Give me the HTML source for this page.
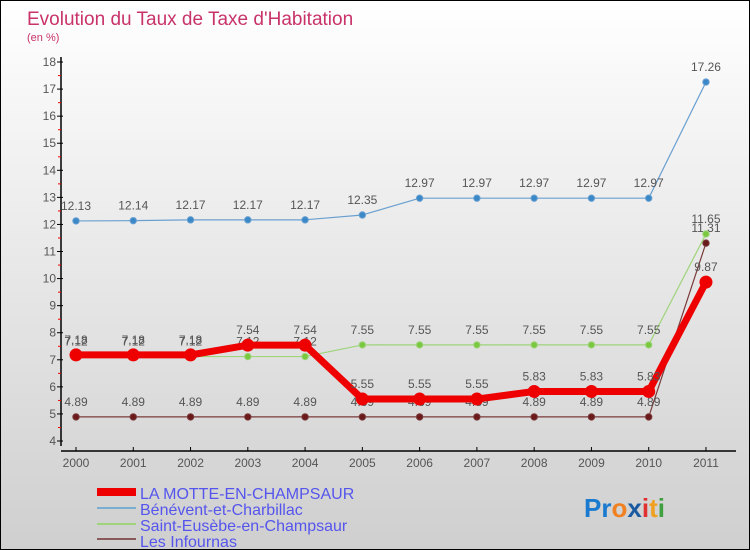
<!DOCTYPE html>
<html><head><meta charset="utf-8"><style>
body{margin:0}
#c{width:750px;height:550px;position:relative;box-sizing:border-box;border:1px solid #000;background:linear-gradient(#ffffff,#cfcfcf);font-family:"Liberation Sans",sans-serif;overflow:hidden}
text{font-family:"Liberation Sans",sans-serif}
</style></head><body>
<div id="c">
<svg id="s" width="750" height="550" style="position:absolute;left:0;top:0">
<text x="26" y="24" font-size="19" fill="#c8336a">Evolution du Taux de Taxe d'Habitation</text>
<text x="26" y="40" font-size="11" fill="#c8336a">(en %)</text>
<g id="axes"></g><g id="series"></g>
<g>
<rect x="96" y="487" width="39" height="8" fill="#e00"/>
<line x1="96" y1="507" x2="135" y2="507" stroke="#7aaed0" stroke-width="2"/>
<line x1="96" y1="523" x2="135" y2="523" stroke="#9ed47a" stroke-width="2"/>
<line x1="96" y1="538" x2="135" y2="538" stroke="#8a5a5a" stroke-width="2"/>
<text x="139" y="498" font-size="16" fill="#5555ee">LA MOTTE-EN-CHAMPSAUR</text>
<text x="139" y="514" font-size="16" fill="#5555ee">Bénévent-et-Charbillac</text>
<text x="139" y="530" font-size="16" fill="#5555ee">Saint-Eusèbe-en-Champsaur</text>
<text x="139" y="546" font-size="16" fill="#5555ee">Les Infournas</text>
</g>
<text x="583" y="516" font-size="26" font-weight="bold"><tspan fill="#1a7ad0">Pr</tspan><tspan fill="#f08020">o</tspan><tspan fill="#1a5aa0">x</tspan><tspan fill="#e03030">i</tspan><tspan fill="#f0a020">t</tspan><tspan fill="#40a040">i</tspan></text>
</svg>
</div>
<script>
const years=[2000,2001,2002,2003,2004,2005,2006,2007,2008,2009,2010,2011];
const yTicks=[4,5,6,7,8,9,10,11,12,13,14,15,16,17,18];
const motte=[7.18,7.18,7.18,7.54,7.54,5.55,5.55,5.55,5.83,5.83,5.83,9.87];
const benevent=[12.13,12.14,12.17,12.17,12.17,12.35,12.97,12.97,12.97,12.97,12.97,17.26];
const eusebe=[7.12,7.12,7.12,7.12,7.12,7.55,7.55,7.55,7.55,7.55,7.55,11.65];
const infournas=[4.89,4.89,4.89,4.89,4.89,4.89,4.89,4.89,4.89,4.89,4.89,11.31];
const NS="http://www.w3.org/2000/svg";
const xs=i=>75+i*57.27;
const ys=v=>440-(v-4)*27.07;
function mk(t,a,p){const e=document.createElementNS(NS,t);for(const k in a)e.setAttribute(k,a[k]);p.appendChild(e);return e;}
const ax=document.getElementById('axes');
const ya=mk('line',{x1:60,y1:56,x2:60,y2:445,stroke:'#000','stroke-width':1.5},ax);


const xa=mk('line',{x1:60,y1:450,x2:735,y2:450,stroke:'#000','stroke-width':1.5},ax);


yTicks.forEach(v=>{const y=ys(v);
mk('line',{x1:56,y1:y,x2:62,y2:y,stroke:'#000'},ax);
if(v<18)mk('line',{x1:57,y1:y-13.5,x2:60,y2:y-13.5,stroke:'#e00'},ax);
const t=mk('text',{x:55,y:y+4,'font-size':12,fill:'#555','text-anchor':'end'},ax);t.textContent=v;

});
years.forEach((yr,i)=>{const x=xs(i);
mk('line',{x1:x,y1:446,x2:x,y2:450,stroke:'#000'},ax);
const t=mk('text',{x:x,y:466,'font-size':12,fill:'#555','text-anchor':'middle'},ax);t.textContent=yr;

});
const sg=document.getElementById('series');
function series(d,col,w,r,name,dot){
const g=mk('g',{},sg);


mk('polyline',{points:d.map((v,i)=>xs(i)+','+ys(v)).join(' '),fill:'none',stroke:col,'stroke-width':w,'stroke-linejoin':'round'},g);
d.forEach((v,i)=>{const c=mk('circle',{cx:xs(i),cy:ys(v),r:r,fill:dot,stroke:col,'stroke-width':1},g);


const t=mk('text',{x:xs(i),y:ys(v)-11,'font-size':12,fill:'#555','text-anchor':'middle'},g);t.textContent=v;

});}
series(benevent,'#6aa0d0',1.2,3.2,'series-benevent','#3a88c8');
series(infournas,'#7a3a3a',1.2,3.2,'series-infournas','#6a1a1a');
series(eusebe,'#9ed47a',1.2,3.2,'series-saint-eusebe','#7ac840');
series(motte,'#e00',7,6,'series-motte','#e00');
</script>
</body></html>
